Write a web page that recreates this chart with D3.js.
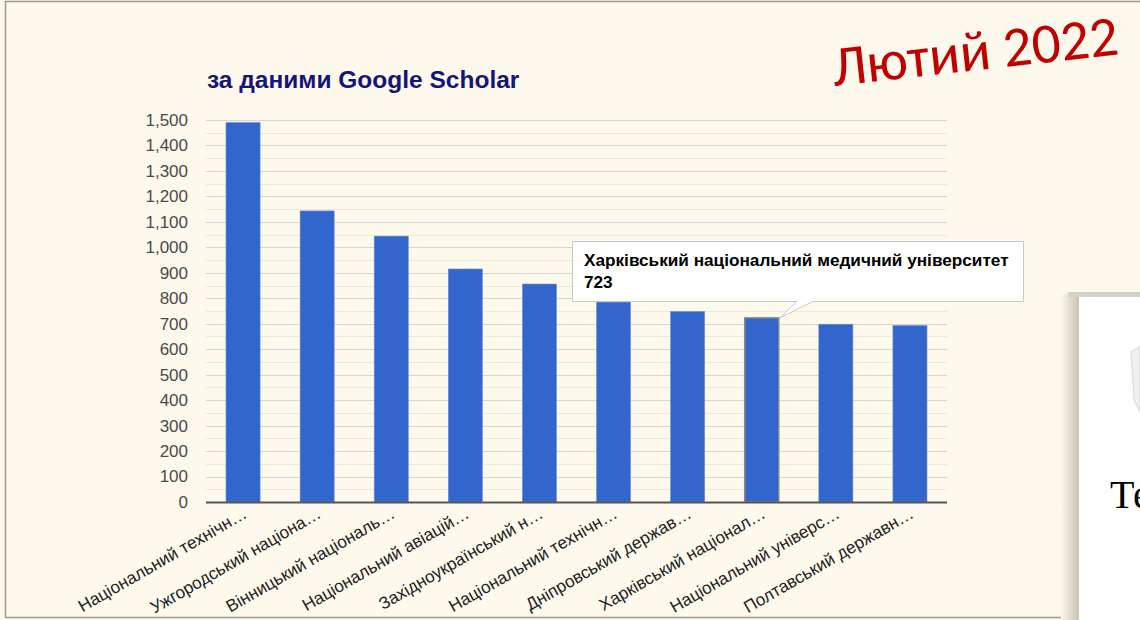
<!DOCTYPE html>
<html lang="uk">
<head>
<meta charset="UTF-8">
<title>за даними Google Scholar</title>
<script src="https://cdn.jsdelivr.net/npm/d3@7"></script>
<style>
  body { margin: 0; background: #fff; }
  svg { display: block; }
</style>
</head>
<body>
<script>

var width = 1140,
    height = 620

// дані
var labels = ["Національний технічн…", "Ужгородський націона…", "Вінницький національ…",
              "Національний авіацій…", "Західноукраїнський н…", "Національний технічн…",
              "Дніпровський держав…", "Харківський націонал…",
              "Національний універс…", "Полтавський державн…"]
var values = [1490, 1143, 1044, 915, 856, 785, 748, 723, 698, 693]
var yTicks = [0, 100, 200, 300, 400, 500, 600, 700, 800, 900, 1000, 1100, 1200, 1300, 1400, 1500]
var tipName = "Харківський національний медичний університет"
var tipIndex = 7

var margin = {left: 206, right: 193, top: 120, bottom: 118}
var font = "Arial, 'Liberation Sans', sans-serif"

var svg = d3.select("body").append("svg")
    .attr("width", width)
    .attr("height", height)

// slide background + frame
svg.append("rect").attr("width", width).attr("height", height).attr("fill", "#fdf9ec")
svg.append("rect").attr("x", 5.5).attr("y", 1.5).attr("width", width + 10).attr("height", 616)
    .attr("fill", "none").attr("stroke", "#9a9a94").attr("stroke-width", 1.5)

var x = d3.scaleBand()
    .domain(d3.range(values.length))
    .range([margin.left, width - margin.right])
    .paddingInner(0.54)
    .paddingOuter(0.27)

var y = d3.scaleLinear()
    .domain([0, 1500])
    .range([height - margin.bottom, margin.top])

var g = svg.append("g")

// minor + major gridlines
var minor = d3.range(50, 1500, 100)
g.selectAll("line.minor").data(minor).enter().append("line")
    .attr("x1", margin.left).attr("x2", width - margin.right)
    .attr("y1", function(d){ return Math.round(y(d)) + 0.5 })
    .attr("y2", function(d){ return Math.round(y(d)) + 0.5 })
    .attr("stroke", "#ebe8dc").attr("stroke-width", 1)

g.selectAll("line.major").data(yTicks.slice(1)).enter().append("line")
    .attr("x1", margin.left).attr("x2", width - margin.right)
    .attr("y1", function(d){ return Math.round(y(d)) + 0.5 })
    .attr("y2", function(d){ return Math.round(y(d)) + 0.5 })
    .attr("stroke", "#d6d4cc").attr("stroke-width", 1.2)

// y axis labels
var fmt = d3.format(",")
g.selectAll("text.ytick").data(yTicks).enter().append("text")
    .attr("x", 188)
    .attr("y", function(d){ return y(d) })
    .attr("dy", "0.35em")
    .attr("text-anchor", "end")
    .attr("font-family", font)
    .attr("font-size", 17)
    .attr("fill", "#4a4a4a")
    .text(function(d){ return fmt(d) })

// bars
g.selectAll("rect.bar").data(values).enter().append("rect")
    .attr("x", function(d, i){ return x(i) })
    .attr("y", function(d){ return y(d) })
    .attr("width", x.bandwidth())
    .attr("height", function(d){ return y(0) - y(d) })
    .attr("fill", "#3366cc")
    .attr("stroke", function(d, i){ return i == tipIndex ? "#8a8a80" : "#6f8fd6" })
    .attr("stroke-width", function(d, i){ return i == tipIndex ? 1.5 : 0.6 })

// baseline
g.append("line")
    .attr("x1", margin.left).attr("x2", width - margin.right)
    .attr("y1", y(0) + 0.5).attr("y2", y(0) + 0.5)
    .attr("stroke", "#555").attr("stroke-width", 2)

// x labels
g.selectAll("text.xlab").data(labels).enter().append("text")
    .attr("transform", function(d, i){
        return "translate(" + (x(i) + x.bandwidth() / 2 + 5) + "," + (y(0) + 15) + ") rotate(-30)"
    })
    .attr("text-anchor", "end")
    .attr("font-family", font)
    .attr("font-size", 17.2)
    .attr("fill", "#222")
    .text(function(d){ return d })

// title
svg.append("text")
    .attr("x", 207).attr("y", 88)
    .attr("font-family", font)
    .attr("font-weight", "bold")
    .attr("font-size", 24.5)
    .attr("fill", "#14147a")
    .text("за даними Google Scholar")

// date stamp
svg.append("text")
    .attr("transform", "translate(834,86) rotate(-6.3)")
    .attr("font-family", "Carlito, Calibri, 'Open Sans', sans-serif")
    .attr("font-size", 57)
    .attr("fill", "#c00000")
    .text("Лютий 2022")

// tooltip
var bx = x(tipIndex) + x.bandwidth(), by = y(values[tipIndex])
var tip = svg.append("g")
tip.append("path")
    .attr("d", "M572.5,241.5 H1023.5 V301.5 H" + (bx + 34) + " L" + (bx + 1) + "," + by + " L" + (bx + 18) + ",301.5 H572.5 Z")
    .attr("fill", "#fff")
    .attr("stroke", "#c8c8c8")
    .attr("stroke-width", 1)
tip.append("text")
    .attr("x", 584).attr("y", 266)
    .attr("font-family", font)
    .attr("font-weight", "bold").attr("font-size", 17.2).attr("fill", "#000")
    .text(tipName)
tip.append("text")
    .attr("x", 584).attr("y", 288)
    .attr("font-family", font)
    .attr("font-weight", "bold").attr("font-size", 17.2).attr("fill", "#000")
    .text(values[tipIndex])

// next slide peeking in at the right
var defs = svg.append("defs")
var grad = defs.append("linearGradient").attr("id", "shade")
grad.append("stop").attr("offset", "0%").attr("stop-color", "#fdf9ec")
grad.append("stop").attr("offset", "100%").attr("stop-color", "#c4c1b5")
svg.append("rect").attr("x", 1061).attr("y", 294).attr("width", 18).attr("height", 330).attr("fill", "url(#shade)")
svg.append("rect").attr("x", 1068).attr("y", 292).attr("width", 80).attr("height", 5).attr("fill", "#d6d3c6")
svg.append("rect").attr("x", 1079).attr("y", 297).attr("width", 70).attr("height", 330).attr("fill", "#fff")
svg.append("path")
    .attr("d", "M1131,352 L1140,346 L1140,412 L1134,400 Z")
    .attr("fill", "#f0f0f0").attr("stroke", "#d8d8d8")
svg.append("text")
    .attr("x", 1110).attr("y", 508)
    .attr("font-family", "'Liberation Serif', 'DejaVu Serif', serif")
    .attr("font-size", 40)
    .attr("fill", "#000")
    .text("Те")

</script>
</body>
</html>
